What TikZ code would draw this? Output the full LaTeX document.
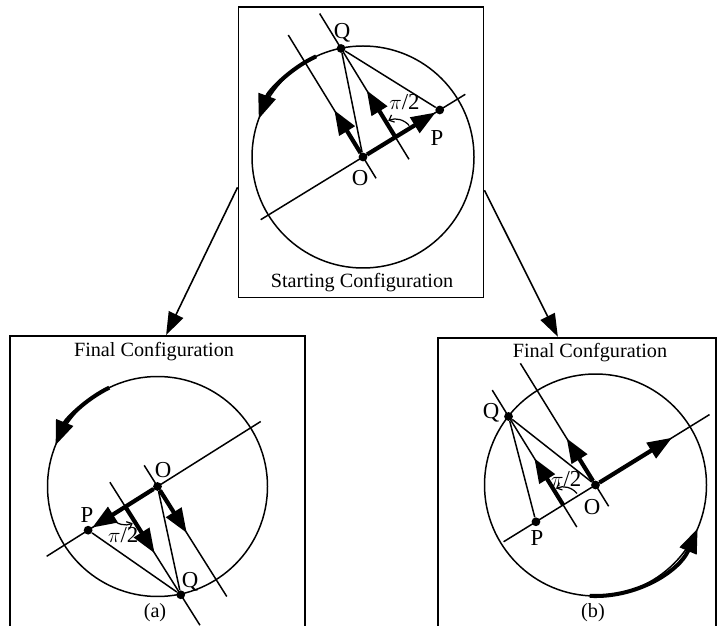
\documentclass[tikz,border=0pt]{standalone}
\usepackage{fontspec}
\setmainfont{Liberation Serif}
\usetikzlibrary{positioning, arrows.meta, calc}

\begin{document}
\begin{tikzpicture}[
    x=0.02cm, y=0.02cm,     % 1単位 = 元図の1ピクセル
    >={Triangle[length=14pt, width=10pt]},
    font=\fontsize{11.5}{14}\selectfont,
    panel/.style={draw, line width=1.1pt, inner sep=0pt},
    geom/.style={line width=0.85pt},
    vec/.style={line width=2.4pt, ->},
    turn/.style={line width=2.3pt, ->},
    rot/.style={line width=0.7pt, -{Straight Barb[length=2.5pt, width=4.5pt]}},
    dot/.style={circle, fill, inner sep=0pt, minimum size=5pt},
    pt/.style={font=\fontsize{13}{15}\selectfont},
    link/.style={line width=0.9pt, -{Triangle[length=13pt, width=9pt]}}
]
    \useasboundingbox (0,0) rectangle (719,625);

    % --- 1. 枠の描画 ---
    \node [panel, minimum width=4.9cm, minimum height=5.81cm] (start) at (361,472.75) {};
    \node [panel, minimum width=5.9cm, minimum height=6.08cm] (finA) at (157.5,137) {};
    \node [panel, minimum width=5.554cm, minimum height=6.046cm] (finB) at (577.15,136.15) {};

    % 枠どうしをつなぐ矢印
    \draw [link] ($(start.north west)!0.62!(start.south west)$) -- ($(finA.north west)!0.529!(finA.north east)$);
    \draw [link] ($(start.north east)!0.63!(start.south east)$) -- ($(finB.north west)!0.431!(finB.north east)$);

    % 見出し
    \node (tTitle) at (362,342) {Starting Configuration};
    \node (aTitle) at (154,273) {Final Configuration};
    \node (bTitle) at (590,272) {Final Confguration};
    \node (aTag) at (155,12) {(a)};
    \node (bTag) at (593,12) {(b)};

    % --- 2. 初期配置（上段） ---
    \draw [geom] (363,468) circle (111);
    \draw [turn] (363,468) ++(115:111) arc [start angle=115, end angle=160, radius=111];
    \begin{scope}[shift={(363,468)}, rotate=31.5]
        \node [dot] (tO) at (0,0) {};
        \node [dot] (tP) at (90,0) {};
        \node [dot] (tQ) at (38,104) {};
        \coordinate (tF) at (38,0);
        \draw [geom] (-120,0) -- (120,0);
        \draw [geom] (0,-25) -- (0,143);
        \draw [geom] (38,-26) -- (38,145);
        \draw [geom] (tQ) -- (tO);
        \draw [geom] (tQ) -- (tP);
        \draw [vec] (tO) -- (tP);
        \draw [vec] (tO) -- (0,55);
        \draw [vec] (tF) -- (38,55);
        \draw [rot] (tF) ++(8:18) arc [start angle=8, end angle=82, radius=18];
        \node [pt] (tPi) at (64,25) {$\pi$/2};
    \end{scope}
    \node [pt] (tQl) at (342,592) {Q};
    \node [pt] (tOl) at (360,447) {O};
    \node [pt] (tPl) at (437,487) {P};

    % --- 3. 最終配置 (a) ---
    \draw [geom] (157.5,138.5) circle (110);
    \draw [turn] (157.5,138.5) ++(116:110) arc [start angle=116, end angle=158, radius=110];
    \begin{scope}[shift={(157.5,138.5)}, rotate=212.2]
        \node [dot] (aO) at (0,0) {};
        \node [dot] (aP) at (82,0) {};
        \node [dot] (aQ) at (38,104) {};
        \coordinate (aF) at (38,0);
        \draw [geom] (-122,0) -- (131,0);
        \draw [geom] (0,-25) -- (0,130);
        \draw [geom] (38,-29) -- (38,140);
        \draw [geom] (aQ) -- (aO);
        \draw [geom] (aQ) -- (aP);
        \draw [vec] (aO) -- (aP);
        \draw [vec] (aO) -- (0,55);
        \draw [vec] (aF) -- (38,55);
        \draw [rot] (aF) ++(8:18) arc [start angle=8, end angle=82, radius=18];
        \node [pt] (aPi) at (55,23) {$\pi$/2};
    \end{scope}
    \node [pt] (aOl) at (163,155) {O};
    \node [pt] (aPl) at (87,110) {P};
    \node [pt] (aQl) at (190,43) {Q};

    % --- 4. 最終配置 (b) ---
    \draw [geom] (595.5,140) circle (111);
    \draw [turn] (595.5,140) ++(267:111) arc [start angle=267, end angle=337, radius=111];
    \begin{scope}[shift={(595.5,140)}, rotate=211.7, yscale=-1]
        \node [dot] (bO) at (0,0) {};
        \node [dot] (bP) at (70,0) {};
        \node [dot] (bQ) at (38,104) {};
        \coordinate (bF) at (38,0);
        \draw [geom] (-134,0) -- (108,0);
        \draw [geom] (0,-25) -- (0,143);
        \draw [geom] (38,-26) -- (38,135);
        \draw [geom] (bQ) -- (bO);
        \draw [geom] (bQ) -- (bP);
        \draw [vec] (bO) -- (-90,0);
        \draw [vec] (bO) -- (0,55);
        \draw [vec] (bF) -- (38,55);
        \draw [rot] (bF) ++(172:18) arc [start angle=172, end angle=98, radius=18];
        \node [pt] (bPi) at (22,20) {$\pi$/2};
    \end{scope}
    \node [pt] (bQl) at (491,212) {Q};
    \node [pt] (bOl) at (592,118) {O};
    \node [pt] (bPl) at (537,87) {P};

\end{tikzpicture}
\end{document}
